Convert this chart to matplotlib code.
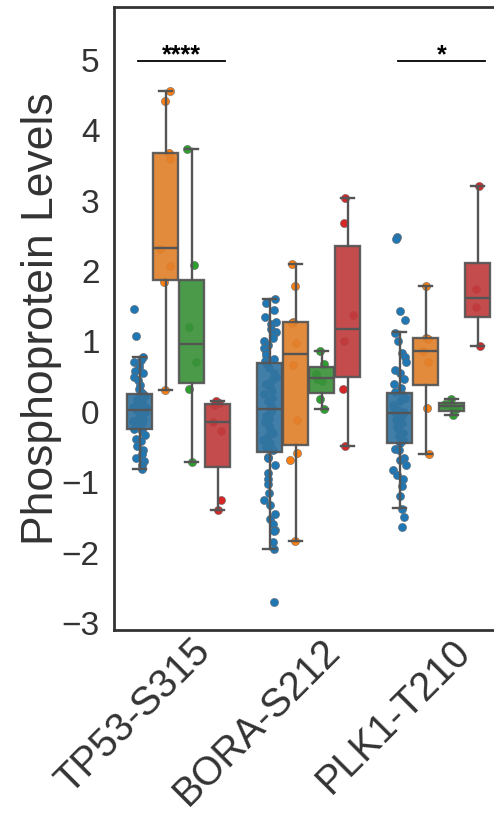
import matplotlib
matplotlib.use('Agg')
import matplotlib.pyplot as plt
from matplotlib.transforms import ScaledTranslation
import numpy as np

plt.rcParams['font.family'] = ['Liberation Sans', 'DejaVu Sans']

categories = ['TP53-S315', 'BORA-S212', 'PLK1-T210']
point_colors = ['#1f77b4', '#ff7f0e', '#2ca02c', '#d62728']
box_colors = ['#3274a1', '#e1812c', '#3a923a', '#c03d3e']

# raw points per category, one list per hue (blue, orange, green, red)
tp53_points = [
    [1.46, 1.08, 0.78, 0.74, 0.70, 0.66, 0.62, 0.58, 0.55, 0.50, 0.45, 0.38,
     0.32, 0.28, 0.25, 0.22, 0.18, 0.15, 0.12, 0.10, 0.07, 0.05, 0.03, 0.02,
     -0.01, -0.04, -0.07, -0.10, -0.13, -0.16, -0.20, -0.24, -0.28, -0.33,
     -0.38, -0.42, -0.48, -0.55, -0.60, -0.66, -0.70, -0.76, -0.82],
    [4.55, 4.42, 3.68, 3.59, 2.31, 2.07, 1.85, 0.31],
    [3.73, 2.08, 1.20, 0.70, 0.33, -0.72],
    [0.15, 0.12, 0.09, -0.14, -0.28, -1.25, -1.39],
]
bora_points = [
    [1.60, 1.55, 1.45, 1.35, 1.27, 1.24, 1.18, 1.14, 1.10, 1.05, 1.00, 0.95,
     0.90, 0.85, 0.80, 0.75, 0.72, 0.68, 0.62, 0.55, 0.50, 0.45, 0.40, 0.35,
     0.30, 0.25, 0.20, 0.15, 0.10, 0.06, 0.04, 0.02, -0.02, -0.06, -0.10,
     -0.15, -0.20, -0.25, -0.30, -0.35, -0.40, -0.45, -0.50, -0.55, -0.64,
     -0.66, -0.75, -0.87, -0.95, -1.03, -1.16, -1.25, -1.33, -1.45, -1.52,
     -1.60, -1.68, -1.70, -1.85, -1.95, -2.70],
    [2.10, 1.79, 1.28, 1.26, 0.98, 0.67, -0.12, -0.58, -0.69, -1.84],
    [0.86, 0.68, 0.53, 0.47, 0.44, 0.18, 0.04],
    [3.04, 2.68, 1.37, 1.00, 0.33, -0.48],
]
plk1_points = [
    [2.48, 2.46, 1.43, 1.30, 1.12, 1.00, 0.84, 0.78, 0.70, 0.60, 0.55, 0.46,
     0.40, 0.34, 0.28, 0.24, 0.20, 0.15, 0.10, 0.06, 0.03, 0.00, -0.02, -0.05,
     -0.08, -0.12, -0.16, -0.20, -0.25, -0.30, -0.35, -0.40, -0.44, -0.53,
     -0.55, -0.65, -0.69, -0.75, -0.83, -0.90, -0.95, -1.05, -1.20, -1.38,
     -1.49, -1.63],
    [1.79, 1.05, 1.03, 0.86, 0.71, 0.05, -0.60],
    [0.18, 0.11, 0.075, 0.04, -0.04],
    [3.21, 1.75, 1.49, 0.93],
]
all_points = [tp53_points, bora_points, plk1_points]

# box statistics: [blue, orange, green, red]
box_q1 = [[-0.24, 1.87, 0.41, -0.78], [-0.57, -0.47, 0.26, 0.50], [-0.44, 0.38, 0.01, 1.35]]
box_med = [[0.03, 2.32, 0.96, -0.14], [0.04, 0.82, 0.48, 1.18], [-0.02, 0.86, 0.075, 1.62]]
box_q3 = [[0.25, 3.68, 1.87, 0.11], [0.69, 1.27, 0.63, 2.35], [0.27, 1.05, 0.13, 2.12]]
whis_lo = [[-0.82, 0.31, -0.72, -1.39], [-1.95, -1.84, 0.04, -0.48], [-1.37, -0.60, -0.04, 0.93]]
whis_hi = [[0.78, 4.55, 3.73, 0.15], [1.60, 2.10, 0.86, 3.04], [1.14, 1.79, 0.18, 3.21]]

sig_labels = ['****', '', '*']
sig_y = 4.98

fig = plt.figure(figsize=(4.94, 8.13), dpi=100)
ax = fig.add_axes([0.2298, 0.2251, 0.7895, 0.7663])

n_hue = 4
hue_w = 0.8 / n_hue
offsets = (np.arange(n_hue) - (n_hue - 1) / 2) * hue_w
rng = np.random.default_rng(3)
line_c = '#555555'

for ci in range(len(categories)):
    for hi in range(n_hue):
        pos = ci + offsets[hi]
        vals = np.array(all_points[ci][hi])
        jit = rng.uniform(-0.05, 0.05, len(vals))
        ax.scatter(pos + jit, vals, s=34, color=point_colors[hi],
                   edgecolor='#666666', linewidth=0.4, zorder=1)
        st = [dict(q1=box_q1[ci][hi], med=box_med[ci][hi], q3=box_q3[ci][hi],
                   whislo=whis_lo[ci][hi], whishi=whis_hi[ci][hi], fliers=[])]
        b = ax.bxp(st, positions=[pos], widths=hue_w * 0.98, patch_artist=True,
                   showfliers=False, manage_ticks=False,
                   boxprops=dict(facecolor=box_colors[hi], edgecolor=line_c,
                                 linewidth=1.7, alpha=0.92),
                   medianprops=dict(color=line_c, linewidth=1.7),
                   whiskerprops=dict(color=line_c, linewidth=1.7),
                   capprops=dict(color=line_c, linewidth=1.7))
        for p in b['boxes']:
            p.set_zorder(2)
            p.set_edgecolor(line_c)
        for k in ['medians', 'whiskers', 'caps']:
            for l in b[k]:
                l.set_zorder(2.5)

for ci, lab in enumerate(sig_labels):
    if lab:
        ax.plot([ci - 0.31, ci + 0.36], [sig_y, sig_y], color='black', lw=1.3)
        ax.text(ci + 0.025, 5.06, lab, ha='center', va='center',
                fontsize=18, fontweight='bold', color='black')

ax.set_xlim(-0.5, 2.5)
ax.set_ylim(-3.1, 5.75)
ax.set_xticks(range(len(categories)))
ax.set_xticklabels([])
# category labels drawn as text so they can sit a little right of the tick
shift = ScaledTranslation(12 / 100, -2 / 100, fig.dpi_scale_trans)
for ci, name in enumerate(categories):
    ax.text(ci, 0, name, transform=ax.get_xaxis_transform() + shift,
            rotation=45, ha='right', va='top', rotation_mode='anchor',
            fontsize=28.5, color='#333333', clip_on=False)
ax.set_yticks(range(-3, 6))
ax.set_yticklabels([str(v).replace('-', '\u2212') for v in range(-3, 6)],
                   fontsize=24, color='#333333')
ax.tick_params(length=0, pad=10)
ax.set_ylabel('Phosphoprotein Levels', fontsize=32, color='#333333', labelpad=0)
for s in ['left', 'bottom', 'top']:
    ax.spines[s].set_color('#333333')
    ax.spines[s].set_linewidth(2)
ax.spines['right'].set_visible(False)

fig.savefig('out.png', dpi=100)
